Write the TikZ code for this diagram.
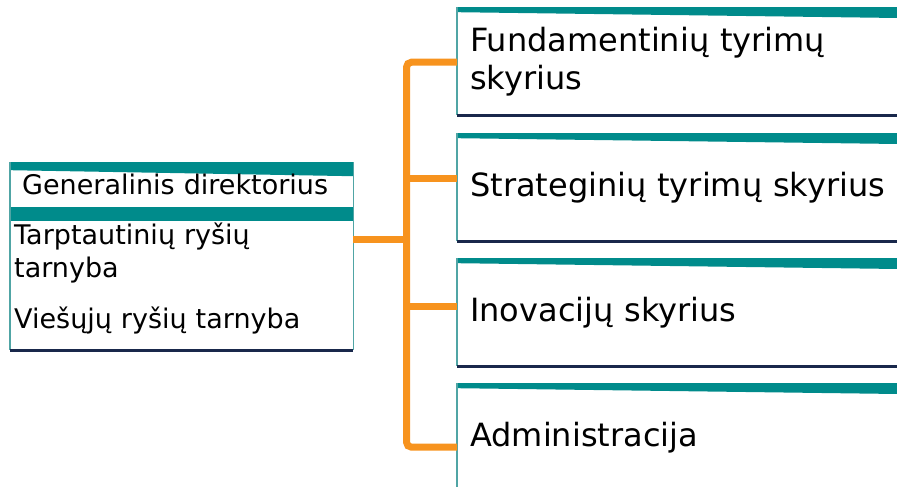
\documentclass[tikz,border=0pt]{standalone}
\usepackage{fontspec}
\setmainfont{DejaVu Sans}
\definecolor{bandteal}{RGB}{0,139,139}
\definecolor{edgeteal}{RGB}{80,165,165}
\definecolor{footnavy}{RGB}{25,40,75}
\definecolor{linkorange}{RGB}{247,147,30}

\begin{document}
\begin{tikzpicture}[x=1pt, y=1pt,
	unit/.style={rectangle, fill=white, anchor=north west, align=left, inner ysep=0pt},
	smallunit/.style={unit, minimum width=343pt, font=\fontsize{27}{33}\selectfont},
	bigunit/.style={unit, band={5pt}{11pt}, minimum width=456pt, minimum height=108pt,
		text width=430pt, inner xsep=13pt, font=\fontsize{32}{38}\selectfont},
	band/.style 2 args={path picture={
		\fill[bandteal] (path picture bounding box.north west) -- (path picture bounding box.north east)
			-- ([yshift=-#2]path picture bounding box.north east) -- ([yshift=-#1]path picture bounding box.north west) -- cycle;}},
	side/.style={draw=edgeteal, line width=1.5pt},
	foot/.style={draw=footnavy, line width=2.5pt},
	link/.style={draw=linkorange, line width=7pt, rounded corners=5pt}
]
	\useasboundingbox (0,0) rectangle (897,-487);

	% left unit
	\node[smallunit, band={8pt}{14pt}, minimum height=45pt, text width=319pt, inner xsep=12pt] (gd) at (10,-162) {Generalinis direktorius};
	\node[smallunit, band={14pt}{14pt}, minimum height=143pt, text width=335pt, inner xsep=4pt] (sv) at (10,-207)
		{Tarptautinių ryšių\\ tarnyba\\[18pt] Viešųjų ryšių tarnyba};
	\draw[side] (gd.north west) -- (sv.south west);
	\draw[side] (gd.north east) -- (sv.south east);
	\draw[foot] (sv.south west) -- (sv.south east);

	% right units
	\node[bigunit] (f1) at (457,-7) {Fundamentinių tyrimų\\ skyrius};
	\node[bigunit] (f2) at (457,-133) {Strateginių tyrimų skyrius};
	\node[bigunit] (f3) at (457,-258) {Inovacijų skyrius};
	\node[bigunit] (f4) at (457,-383) {Administracija};
	\foreach \b in {f1,f2,f3,f4} {
		\draw[side] (\b.north west) -- (\b.south west);
		\draw[foot] (\b.south west) -- (\b.south east);
	}

	% links
	\coordinate (jn) at (406.5,-239);
	\draw[link] ([yshift=-1pt]f1.west) -| (jn) |- ([yshift=-10pt]f4.west);
	\draw[link] (sv.east |- jn) -- (jn);
	\foreach \b/\s in {f2/8.5, f3/5.5}
		\draw[link] ([yshift=\s pt]\b.west) -- ++(-50.5,0);
\end{tikzpicture}
\end{document}
